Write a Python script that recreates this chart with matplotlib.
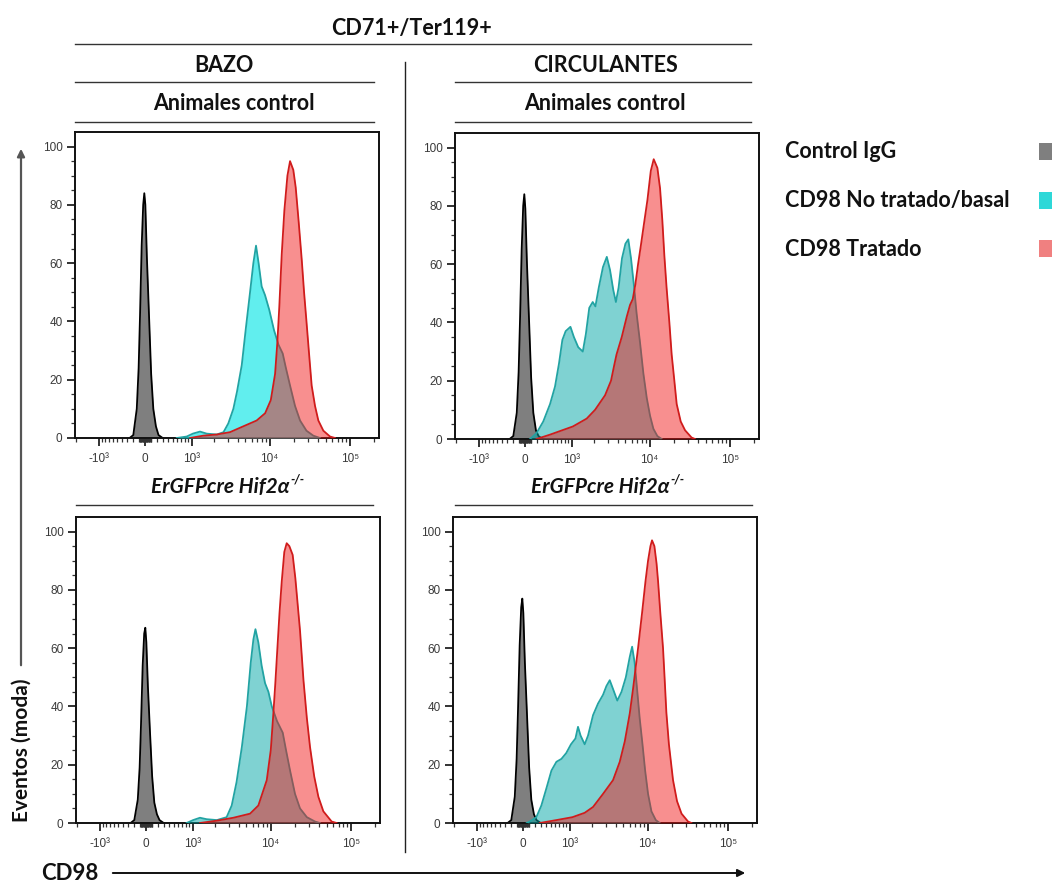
import matplotlib
matplotlib.use('Agg')
import matplotlib.pyplot as plt
from matplotlib.lines import Line2D
from matplotlib.patches import FancyArrowPatch, Rectangle
from matplotlib.ticker import FixedLocator

W, H = 1052, 883

# ---- data (CD98 fluorescence, % of mode) ----
igg_x = [-260, -195, -136, -105, -82, -55, -30, -12, 5, 30, 65, 100, 136, 180, 225, 300]
igg_tl = [0, 1, 10, 24, 42, 66, 80, 84, 80, 62, 42, 22, 10, 4, 1, 0]
igg_tr = [0, 1, 9, 23, 41, 65, 80, 84, 79, 61, 41, 21, 9, 3, 1, 0]
igg_bl = [0, 1, 8, 19, 34, 54, 65, 67, 62, 47, 31, 16, 7, 3, 1, 0]
igg_br = [0, 1, 9, 22, 39, 61, 74, 77, 72, 55, 37, 19, 8, 3, 1, 0]

basal_tl_x = [590, 850, 1045, 1311, 1610, 2180, 2650, 3050, 3530, 3930, 4500, 5080, 5710, 6280,
              6780, 7300, 7970, 8780, 9900, 11350, 12900, 14550, 15950, 17950, 20700, 23900,
              28700, 34900, 42300]
basal_tl_y = [0, 0.5, 1.5, 2.2, 1.5, 1.2, 2, 5, 10, 16, 25, 38, 50, 60, 66, 60, 52, 49, 44, 37,
              32, 29, 24, 18, 11, 6, 2.5, 0.8, 0]
trat_tl_x = [950, 1450, 2180, 3200, 4700, 6900, 8800, 10350, 11700, 12500, 13200, 14150, 15250,
             16650, 17950, 19700, 21100, 23000, 25100, 26800, 28700, 31100, 33300, 36650, 40300,
             46500, 56260, 64900]
trat_tl_y = [0, 0.8, 1.2, 2, 4, 6, 8.5, 13, 22, 33, 45, 63, 78, 90, 95, 92, 86, 74, 61, 50, 40,
             28, 18, 11, 6, 2.5, 0.5, 0]

basal_tr_x = [82, 190, 310, 443, 550, 645, 730, 820, 965, 1080, 1240, 1430, 1570, 1740, 1930,
              2090, 2310, 2610, 2920, 3205, 3530, 3800, 4110, 4530, 5000, 5430, 5870, 6420, 6900,
              7610, 8370, 9230, 10130, 11150, 12500, 14150]
basal_tr_y = [0, 2, 6, 12, 18, 26, 34, 37, 38.5, 35, 31.5, 30, 36, 45, 47, 45.5, 52, 59, 62.5,
              58, 51, 47, 52, 62, 67, 68.5, 62, 52, 43, 33, 22.5, 14, 8, 3.5, 1, 0]
trat_tr_x = [190, 443, 1045, 1610, 2067, 2774, 3300, 3600, 3870, 4500, 5200, 5710, 6170, 6650,
             7190, 7750, 8530, 9400, 10350, 11250, 12500, 13490, 14400, 15250, 16250, 17600,
             18800, 20300, 21700, 24350, 27560, 33200, 36650]
trat_tr_y = [0, 1.5, 4.3, 7, 10, 15, 20, 25, 29, 35, 42, 46, 48, 53, 60, 66, 74, 82, 92, 96, 93,
             86, 75, 63, 52, 40, 29, 20, 12, 6, 3, 0.5, 0]

basal_bl_x = [820, 1020, 1270, 1560, 2120, 2820, 3270, 3760, 4380, 5070, 5660, 6110, 6480, 7040,
              7740, 8530, 9400, 10350, 12000, 14150, 15550, 17450, 20100, 23200, 28200, 35600,
              41000]
basal_bl_y = [0, 1, 1.8, 1.3, 1, 2, 6, 14, 26, 40, 55, 63, 66.5, 62, 54, 48, 45, 40, 35, 31, 25,
              18, 10, 5, 2, 0.5, 0]
trat_bl_x = [1270, 2120, 3430, 5550, 7040, 8960, 10050, 10820, 11450, 12150, 12900, 13770, 14800,
             15850, 17100, 18800, 20300, 21700, 23200, 25600, 28200, 30900, 34800, 39200, 45200,
             57300, 66000]
trat_bl_y = [0, 0.8, 1.8, 3.2, 6, 14.7, 25, 37.5, 48, 60, 72, 83, 93, 96, 95, 92, 84, 75, 66, 49,
             36, 26, 16, 9, 4, 0.5, 0]

basal_br_x = [60, 110, 222, 312, 411, 515, 630, 758, 896, 1048, 1210, 1311, 1420, 1610, 1781,
              2067, 2396, 2774, 3060, 3370, 3705, 4190, 4730, 5360, 6000, 6420, 6900, 7340, 7970,
              8640, 9320, 10130, 11160, 12650, 14150]
basal_br_y = [0, 0.5, 2, 6, 12, 18, 21, 22, 24, 27, 29, 33, 30, 27, 30, 37, 41, 44, 47, 49, 46,
              42, 45, 50, 57, 60.5, 55, 47, 36, 27, 18, 10, 4, 1, 0]
trat_br_x = [283, 630, 1100, 1610, 2067, 2774, 3705, 4500, 5200, 6000, 6590, 7610, 8530, 9420,
             10130, 10850, 11350, 12150, 12930, 13490, 14400, 15550, 16250, 17100, 18400, 20700,
             23200, 26400, 31800, 35000]
trat_br_y = [0, 1, 2, 3.5, 5.5, 10, 14.7, 21, 28, 37.6, 46, 60, 72, 83, 90, 95, 97, 95, 89, 83,
             72, 60, 50, 38, 27, 14.7, 7.5, 3.2, 0.5, 0]

xtick_vals = [-1000, 0, 1000, 10000, 100000]
xtick_labels = ['-10³', '0', '10³', '10⁴', '10⁵']
ytick_vals = [0, 20, 40, 60, 80, 100]

legend_labels = ['Control IgG', 'CD98 No tratado/basal', 'CD98 Tratado']
legend_colors = ['#7f7f7f', '#2ed8d8', '#f08080']

fig = plt.figure(figsize=(W / 100, H / 100), dpi=100)


def fx(px):
    return px / W


def fy(py):
    return 1 - py / H


def hline(x0, x1, y, color='#333333', lw=1.0):
    fig.add_artist(Line2D([fx(x0), fx(x1)], [fy(y), fy(y)], transform=fig.transFigure,
                          color=color, lw=lw))


def panel(left, top, igg_y, bx, by, tx, ty, cyan_face, cyan_alpha):
    ax = fig.add_axes([fx(left), fy(top + 306), 304 / W, 306 / H])
    ax.set_xscale('asinh', linear_width=570)
    ax.fill_between(igg_x, igg_y, color='#7f7f7f', lw=0, zorder=2)
    ax.plot(igg_x, igg_y, color='black', lw=1.3, zorder=2)
    ax.fill_between(bx, by, color=cyan_face, alpha=cyan_alpha, lw=0, zorder=3)
    ax.plot(bx, by, color='#22a3a3', lw=1.3, zorder=3)
    ax.fill_between(tx, ty, color='#f21212', alpha=0.47, lw=0, zorder=4)
    ax.plot(tx, ty, color='#d01c1c', lw=1.3, zorder=4)
    ax.set_xlim(-2070, 228000)
    ax.set_ylim(0, 105)
    ax.set_xticks(xtick_vals, xtick_labels)
    minors = []
    for j in range(1, 6):
        for k in range(1, 10):
            v = k * 10 ** j
            if v < 228000 and v not in xtick_vals:
                minors.append(v)
            if -v > -2070 and -v not in xtick_vals:
                minors.append(-v)
    ax.xaxis.set_minor_locator(FixedLocator(minors))
    ax.set_yticks(ytick_vals)
    ax.yaxis.set_minor_locator(FixedLocator(range(5, 105, 5)))
    ax.tick_params(axis='both', which='major', direction='out', length=6, width=1.3,
                   labelsize=8.5, labelcolor='#3a3a3a', color='#222222', pad=3)
    ax.tick_params(axis='both', which='minor', direction='out', length=3, width=0.9,
                   color='#333333')
    ax.tick_params(axis='x', which='major', pad=5)
    for lab in ax.get_xticklabels() + ax.get_yticklabels():
        lab.set_family('Liberation Sans')
    for s in ax.spines.values():
        s.set_linewidth(1.4)
        s.set_color('#111111')
    return ax


panel(75, 132, igg_tl, basal_tl_x, basal_tl_y, trat_tl_x, trat_tl_y, '#1ee8e8', 0.7)
panel(455, 133, igg_tr, basal_tr_x, basal_tr_y, trat_tr_x, trat_tr_y, '#00a6a6', 0.5)
panel(76, 517, igg_bl, basal_bl_x, basal_bl_y, trat_bl_x, trat_bl_y, '#00a6a6', 0.5)
panel(453, 517, igg_br, basal_br_x, basal_br_y, trat_br_x, trat_br_y, '#00a6a6', 0.5)

# ---- headers ----
hfont = dict(family=['Lato', 'DejaVu Sans'], weight='bold', fontsize=15.5, color='#111111')
fig.text(fx(411), fy(28), 'CD71+/Ter119+', ha='center', va='center', **hfont)
hline(75, 751, 44)
fig.text(fx(224), fy(66), 'BAZO', ha='center', va='center', **hfont)
fig.text(fx(605), fy(66), 'CIRCULANTES', ha='center', va='center', **hfont)
hline(75, 374, 82)
hline(455, 751, 82)
fig.text(fx(234), fy(104), 'Animales control', ha='center', va='center', **hfont)
fig.text(fx(605), fy(104), 'Animales control', ha='center', va='center', **hfont)
hline(75, 374, 122)
hline(455, 751, 122)

ifont = dict(family=['Lato', 'DejaVu Sans'], weight='bold', color='#111111', style='italic')
fig.canvas.draw()
renderer = fig.canvas.get_renderer()
for cx in (220, 600):
    t = fig.text(fx(cx), fy(487), 'ErGFPcre Hif2α', ha='center', va='center',
                 fontsize=15, **ifont)
    bb = t.get_window_extent(renderer)
    fig.text(bb.x1 / W + 0.001, fy(480), '-/-', ha='left', va='center', fontsize=9, **ifont)
hline(76, 373, 505)
hline(455, 752, 505)

# vertical separator
fig.add_artist(Line2D([fx(405), fx(405)], [fy(62), fy(852)], transform=fig.transFigure,
                      color='#222222', lw=1.0))

# ---- legend ----
for i, (lab, col) in enumerate(zip(legend_labels, legend_colors)):
    yy = 152 + i * 48.5
    fig.text(fx(785), fy(yy), lab, ha='left', va='center', **hfont)
    fig.add_artist(Rectangle((fx(1039), fy(yy + 8)), 14 / W, 17 / H, transform=fig.transFigure,
                             color=col, lw=0))

# ---- axis labels and arrows ----
fig.text(fx(22), fy(750), 'Eventos (moda)', rotation=90, ha='center', va='center',
         family=['Lato', 'DejaVu Sans'], weight='bold', fontsize=15, color='#111111')
fig.add_artist(FancyArrowPatch((fx(21), fy(668)), (fx(21), fy(146)), transform=fig.transFigure,
                               arrowstyle='-|>', mutation_scale=11, lw=1.6, color='#555555'))
fig.text(fx(70), fy(873), 'CD98', ha='center', va='center',
         family=['Lato', 'DejaVu Sans'], weight='bold', fontsize=16, color='#111111')
fig.add_artist(FancyArrowPatch((fx(110), fy(873)), (fx(748), fy(873)), transform=fig.transFigure,
                               arrowstyle='-|>', mutation_scale=11, lw=1.4, color='#111111'))

fig.savefig('out.png', dpi=100)
